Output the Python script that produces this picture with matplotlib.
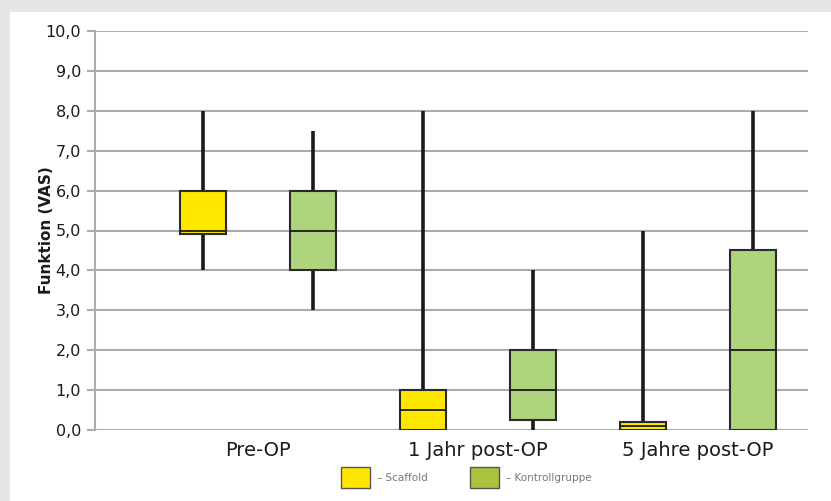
import matplotlib.pyplot as plt
from matplotlib.patches import Rectangle

# Data (VAS function scores)
groups = ['Pre-OP', '1 Jahr post-OP', '5 Jahre post-OP']
scaffold_low = [4.0, 0.0, 0.0]
scaffold_q1 = [4.9, 0.0, 0.0]
scaffold_med = [5.0, 0.5, 0.1]
scaffold_q3 = [6.0, 1.0, 0.2]
scaffold_high = [8.0, 8.0, 5.0]

control_low = [3.0, 0.0, 0.0]
control_q1 = [4.0, 0.25, 0.0]
control_med = [5.0, 1.0, 2.0]
control_q3 = [6.0, 2.0, 4.5]
control_high = [7.5, 4.0, 8.0]

yticks = [0, 1, 2, 3, 4, 5, 6, 7, 8, 9, 10]

yellow = '#FFE800'
green = '#AED47E'
grid_color = '#ABABAB'
text_color = '#1a1a1a'


def make_stats(low, q1, med, q3, high):
    return [dict(whislo=a, q1=b, med=c, q3=d, whishi=e, fliers=[])
            for a, b, c, d, e in zip(low, q1, med, q3, high)]


fig = plt.figure(figsize=(8.31, 5.01), dpi=100)
fig.patch.set_facecolor('#E6E6E6')
fig.patches.append(Rectangle((10 / 831, 0), 1, 1 - 12 / 501, transform=fig.transFigure,
                             facecolor='white', edgecolor='none', zorder=-10))

ax = fig.add_axes([95 / 831, 1 - 430 / 501, 713 / 831, 399 / 501])
ax.set_facecolor('none')

x = list(range(len(groups)))
offset, width = 0.25, 0.205
common = dict(showcaps=False, showfliers=False, widths=width, patch_artist=True,
              whiskerprops=dict(color='#1a1a1a', linewidth=2.6, solid_capstyle='butt'),
              medianprops=dict(color='#1a1a1a', linewidth=1.3))

b1 = ax.bxp(make_stats(scaffold_low, scaffold_q1, scaffold_med, scaffold_q3, scaffold_high),
            positions=[i - offset for i in x],
            boxprops=dict(facecolor=yellow, edgecolor='#2a2a2a', linewidth=1.5), **common)
b2 = ax.bxp(make_stats(control_low, control_q1, control_med, control_q3, control_high),
            positions=[i + offset for i in x],
            boxprops=dict(facecolor=green, edgecolor='#2a2a2a', linewidth=1.5), **common)
for b in (b1, b2):
    for art in b['whiskers']:
        art.set_zorder(2.5)
    for art in b['boxes']:
        art.set_zorder(3)
    for art in b['medians']:
        art.set_zorder(3.5)

ax.set_xlim(-0.741, 2.5)
ax.set_ylim(0, 10)
ax.set_yticks(yticks)
ax.set_yticklabels([f'{v:.1f}'.replace('.', ',') for v in yticks], fontsize=11.5, color=text_color)
ax.set_xticks(x)
ax.set_xticklabels(groups, fontsize=14, color=text_color)
ax.tick_params(axis='x', length=0, pad=8)
ax.tick_params(axis='y', length=6, width=1.5, color=grid_color, pad=4)

ax.grid(axis='y', color=grid_color, linewidth=1.5)
ax.set_axisbelow(True)
for s in ['top', 'right', 'bottom']:
    ax.spines[s].set_visible(False)
ax.spines['left'].set_color(grid_color)
ax.spines['left'].set_linewidth(1.5)

ax.set_ylabel('Funktion (VAS)', fontsize=11, fontweight='bold', color=text_color)
ax.yaxis.set_label_coords(-0.058, 0.5)

# Legend drawn as small patches under the axis
for px, col, lab in [(341, '#FFE600', '– Scaffold'), (470, '#A9C43C', '– Kontrollgruppe')]:
    fig.patches.append(Rectangle((px / 831, 1 - 488 / 501), 29 / 831, 21 / 501,
                                 transform=fig.transFigure, facecolor=col,
                                 edgecolor='#555555', linewidth=1))
    fig.text((px + 36) / 831, 1 - 478 / 501, lab, fontsize=7.5, color='#777777', va='center')

fig.savefig('out.png', dpi=100)
